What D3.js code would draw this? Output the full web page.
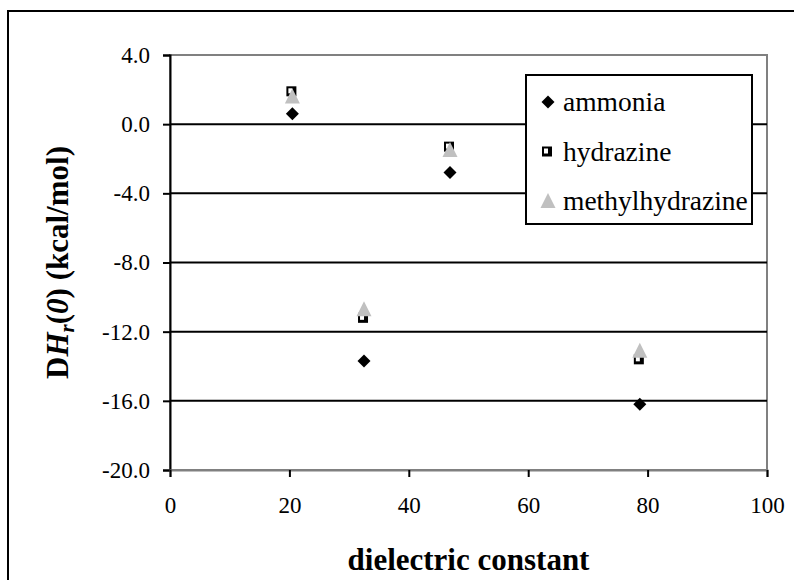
<!DOCTYPE html>
<html>
<head>
<meta charset="utf-8">
<script src="https://cdn.jsdelivr.net/npm/d3@7"></script>
<style>
  body { margin: 0; background: #fff; }
  svg { display: block; }
</style>
</head>
<body>
<div id="chart"></div>
<script>
// data
var dielectric = [20.5, 32.5, 46.9, 78.7];
var ammonia = [0.6, -13.7, -2.8, -16.2];
var hydrazine = [1.9, -11.2, -1.3, -13.6];
var methylhydrazine = [1.6, -10.7, -1.5, -13.1];
var seriesNames = ['ammonia', 'hydrazine', 'methylhydrazine'];
var xTicks = [0, 20, 40, 60, 80, 100];
var yTicks = [4, 0, -4, -8, -12, -16, -20];
var gridValues = [0, -4, -8, -12, -16];

var width = 794;
var height = 580;
var plotLeft = 170, plotRight = 767, plotTop = 55, plotBottom = 470;
var font = '"Liberation Serif", "Times New Roman", serif';

var svg = d3.select('#chart').append('svg')
      .attr('width', width)
      .attr('height', height)

// outer chart frame (runs off the right/bottom edge)
svg.append('rect')
      .attr('x', 8)
      .attr('y', 11)
      .attr('width', 820)
      .attr('height', 620)
      .style('fill', 'none')
      .style('stroke', '#000')
      .style('stroke-width', 2)

var xScale = d3.scaleLinear()
      .domain([0, 100])
      .range([plotLeft, plotRight])

var yScale = d3.scaleLinear()
      .domain([-20, 4])
      .range([plotBottom, plotTop])

// plot area border
svg.append('rect')
      .attr('x', plotLeft)
      .attr('y', plotTop)
      .attr('width', plotRight - plotLeft)
      .attr('height', plotBottom - plotTop)
      .style('fill', 'none')
      .style('stroke', '#808080')
      .style('stroke-width', 2)

// gridlines
svg.append('g').selectAll('line')
      .data(gridValues)
      .enter()
      .append('line')
            .attr('x1', plotLeft)
            .attr('x2', plotRight)
            .attr('y1', d => yScale(d))
            .attr('y2', d => yScale(d))
            .style('stroke', '#000')
            .style('stroke-width', 2)

// axes
var yAxis = d3.axisLeft(yScale)
      .tickValues(yTicks)
      .tickSize(7)
      .tickPadding(13)
      .tickFormat(d => d.toFixed(1))

var xAxis = d3.axisBottom(xScale)
      .tickValues(xTicks)
      .tickSize(7)
      .tickPadding(20)
      .tickFormat(d => d)

var yAxisGroup = svg.append('g')
      .attr('transform', 'translate(' + plotLeft + ',0)')
      .call(yAxis)
var xAxisGroup = svg.append('g')
      .attr('transform', 'translate(0,' + plotBottom + ')')
      .call(xAxis)

;[xAxisGroup, yAxisGroup].forEach(function(g) {
      g.attr('font-family', font).attr('font-size', 23)
      g.select('.domain').style('stroke', '#000').style('stroke-width', 2)
      g.selectAll('.tick line').style('stroke', '#000').style('stroke-width', 2)
      g.selectAll('.tick text').style('fill', '#000')
})
xAxisGroup.select('.domain').style('stroke', '#808080')

// axis titles
svg.append('text')
      .attr('x', (plotLeft + plotRight) / 2)
      .attr('y', 570)
      .style('text-anchor', 'middle')
      .style('font-family', font)
      .style('font-weight', 'bold')
      .style('font-size', '31px')
      .text('dielectric constant')

var yLabel = svg.append('text')
      .attr('transform', 'rotate(-90)')
      .attr('x', -(plotTop + plotBottom) / 2)
      .attr('y', 68)
      .style('text-anchor', 'middle')
      .style('font-family', font)
      .style('font-weight', 'bold')
      .style('font-size', '31px')
yLabel.append('tspan').text('D')
yLabel.append('tspan').style('font-style', 'italic').text('H')
yLabel.append('tspan').style('font-style', 'italic').style('font-size', '21px').attr('dy', 6).text('r')
yLabel.append('tspan').attr('dy', -6).text('(')
yLabel.append('tspan').style('font-style', 'italic').text('0')
yLabel.append('tspan').text(') (kcal/mol)')

// marker drawing
var diamondPath = 'M0,-6.5L6.5,0L0,6.5L-6.5,0Z';
var trianglePath = 'M0,-8L7.5,7L-7.5,7Z';

function drawMarker(g, type) {
      if (type === 'ammonia') {
            g.append('path').attr('d', diamondPath).style('fill', '#000')
      } else if (type === 'hydrazine') {
            g.append('rect').attr('x', -6).attr('y', -5).attr('width', 10).attr('height', 10).style('fill', '#000')
            g.append('rect').attr('x', -4).attr('y', -3).attr('width', 4).attr('height', 5).style('fill', '#fff')
      } else {
            g.append('path').attr('d', trianglePath).style('fill', '#c0c0c0')
      }
}

var seriesValues = { ammonia: ammonia, hydrazine: hydrazine, methylhydrazine: methylhydrazine };
var plot = svg.append('g');

seriesNames.forEach(function(name) {
      var pts = dielectric.map((x, i) => ({ x: x, y: seriesValues[name][i] }));
      plot.append('g').selectAll('g')
            .data(pts)
            .enter()
            .append('g')
                  .attr('transform', d => 'translate(' + xScale(d.x) + ',' + yScale(d.y) + ')')
                  .each(function() { drawMarker(d3.select(this), name) })
})

// legend
var legend = svg.append('g')
legend.append('rect')
      .attr('x', 526)
      .attr('y', 75)
      .attr('width', 226)
      .attr('height', 149)
      .style('fill', '#fff')
      .style('stroke', '#000')
      .style('stroke-width', 2)

var rows = legend.selectAll('g.row')
      .data(seriesNames)
      .enter()
      .append('g')
            .attr('class', 'row')
            .attr('transform', (d, i) => 'translate(548,' + (102 + i * 49.5) + ')')
rows.each(function(d) { drawMarker(d3.select(this), d) })
rows.append('text')
      .attr('x', 15)
      .attr('y', 9)
      .style('font-family', font)
      .style('font-size', '27.5px')
      .text(d => d)
</script>
</body>
</html>
